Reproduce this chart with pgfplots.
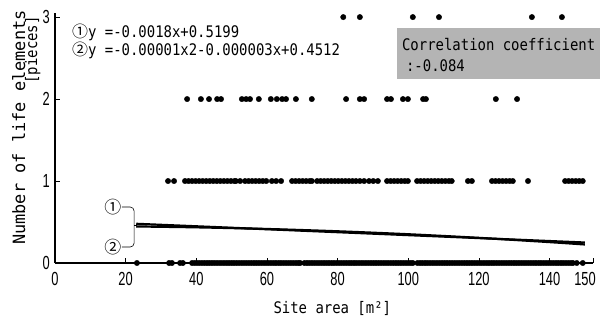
\documentclass[border=0pt]{standalone}
\usepackage{fontspec}
\setmainfont{Liberation Sans}
\newfontfamily\monof{DejaVu Sans Mono}[FakeStretch=0.875]
\newfontfamily\monoy{DejaVu Sans Mono}
\newfontfamily\tickf{Liberation Sans}[FakeStretch=0.68]
\newfontfamily\circf{Noto Sans CJK JP}
\usepackage{pgfplots}
\pgfplotsset{compat=1.18}
\definecolor{boxgray}{RGB}{180,180,180}
\begin{document}
\begin{tikzpicture}
\path[use as bounding box] (-55bp,-57bp) rectangle (547bp,263bp);
\begin{axis}[
  at={(0,0)}, anchor=south west,
  scale only axis, width=538bp, height=250bp,
  xmin=0, xmax=152.3, ymin=0, ymax=3.05,
  axis x line=bottom, axis y line=left,
  axis line style={-, line width=1.3bp},
  tick align=inside, major tick length=5bp,
  tick style={black, line width=0.8bp},
  xtick={0,20,40,60,80,100,120,140,152.3},
  xticklabels={0,20,40,60,80,100,120,140,\makebox[0pt]{\hspace{-16bp}150}},
  ytick={0,1,2,3},
  /pgf/number format/assume math mode=true,
  ticklabel style={font=\tickf\fontsize{19}{19}\selectfont},
  yticklabel style={inner xsep=0pt, xshift=-5bp},
  xticklabel style={inner ysep=0pt, yshift=-9bp},
  clip=false,
]
% y = 3
\addplot[only marks, mark=*, mark size=2.7bp, black] coordinates {
(81.6,3)(86.3,3)(101.3,3)(108.7,3)(135.0,3)(143.5,3)};
% y = 2
\addplot[only marks, mark=*, mark size=2.7bp, black] coordinates {
(37.4,2)(41.3,2)(43.6,2)(45.9,2)(47.0,2)(52.9,2)(54.1,2)(55.2,2)(57.7,2)(61.1,2)
(62.8,2)(64.3,2)(65.4,2)(68.2,2)(72.7,2)(82.4,2)(86.3,2)(87.5,2)(94.0,2)(95.1,2)
(98.5,2)(99.9,2)(104.2,2)(105.0,2)(124.8,2)(130.8,2)};
% y = 1
\addplot[only marks, mark=*, mark size=2.7bp, black] coordinates {
(32.0,1)(33.7,1)
(36.8,1)(37.8,1)(38.8,1)(39.8,1)(40.8,1)(41.8,1)(42.8,1)(43.8,1)(44.8,1)(45.8,1)(46.8,1)(47.8,1)(48.8,1)(49.8,1)(50.8,1)(51.2,1)
(52.4,1)
(53.8,1)(54.8,1)(55.8,1)(56.8,1)(57.8,1)(58.8,1)(59.8,1)
(61.4,1)(62.6,1)(64.0,1)
(67.1,1)(68.1,1)(69.1,1)(70.1,1)(71.1,1)(72.1,1)(72.7,1)
(74.2,1)(75.2,1)(76.2,1)(77.2,1)(78.2,1)(79.2,1)(80.2,1)(81.2,1)(82.2,1)(83.2,1)(84.2,1)(85.2,1)(86.3,1)
(87.5,1)(88.9,1)(90.1,1)(91.4,1)
(94.0,1)(95.0,1)(96.0,1)(97.0,1)(98.0,1)(99.0,1)(99.9,1)
(102.5,1)(103.5,1)(104.5,1)(105.5,1)(106.5,1)(107.5,1)(108.5,1)(109.5,1)(110.5,1)(111.5,1)(112.3,1)
(116.9,1)(118.0,1)
(123.7,1)(124.7,1)(125.7,1)(126.7,1)(127.7,1)(128.7,1)(129.6,1)
(133.9,1)
(144.4,1)(145.4,1)(146.4,1)(147.4,1)(148.4,1)(149.4,1)};
% y = 0
\addplot[only marks, mark=*, mark size=2.7bp, black] coordinates {
(23.2,0)(32.3,0)(33.1,0)(35.4,0)(36.2,0)
(38.8,0)(39.5,0)(40.2,0)(40.9,0)(41.6,0)(42.3,0)(43.0,0)(43.7,0)(44.4,0)(45.1,0)(45.8,0)(46.5,0)(47.2,0)(47.9,0)(48.6,0)(49.3,0)
(50.0,0)(50.7,0)(51.4,0)(52.1,0)(52.8,0)(53.5,0)(54.2,0)(54.9,0)(55.6,0)(56.3,0)(57.0,0)(57.7,0)(58.4,0)(59.1,0)(59.8,0)(60.5,0)
(61.2,0)(61.9,0)(62.6,0)(63.3,0)(64.0,0)(64.7,0)(65.4,0)(66.1,0)(66.8,0)(67.5,0)(68.2,0)(68.9,0)(69.4,0)
(70.6,0)(71.3,0)(72.0,0)(72.7,0)(73.4,0)(74.1,0)(74.8,0)(75.5,0)(76.2,0)(76.9,0)(77.6,0)(78.3,0)(79.0,0)(79.7,0)(80.4,0)
(81.1,0)(81.8,0)(82.5,0)(83.2,0)(83.9,0)(84.6,0)(85.3,0)(86.0,0)(86.7,0)(87.4,0)(88.1,0)(88.8,0)(89.5,0)(90.2,0)(90.9,0)
(91.6,0)(92.3,0)(93.0,0)(93.7,0)(94.4,0)(95.1,0)(95.8,0)(96.5,0)(97.2,0)(97.9,0)(98.6,0)(99.3,0)(100.0,0)(100.7,0)(101.3,0)
(102.6,0)(103.3,0)(104.0,0)(104.7,0)(105.4,0)(106.1,0)(106.8,0)(107.5,0)(108.2,0)(108.9,0)(109.6,0)(110.3,0)(111.0,0)
(111.7,0)(112.4,0)(113.1,0)(113.8,0)(114.5,0)(115.2,0)(115.9,0)(116.6,0)(117.3,0)(118.0,0)(118.7,0)(119.4,0)(120.1,0)
(120.8,0)(121.5,0)(122.2,0)(122.9,0)(123.6,0)(124.3,0)(125.0,0)(125.7,0)(126.4,0)(127.1,0)(127.8,0)(128.5,0)(129.2,0)
(129.9,0)(130.6,0)(131.3,0)(132.0,0)(132.7,0)(133.4,0)(134.1,0)(134.8,0)(135.5,0)(136.2,0)(136.9,0)(137.6,0)(138.3,0)
(139.0,0)(139.7,0)(140.4,0)(141.1,0)(141.8,0)(142.5,0)(143.2,0)(143.9,0)(144.6,0)(145.3,0)(146.0,0)(146.6,0)
(147.7,0)(149.4,0)};
% regression lines
\addplot[black, line width=2.2bp] coordinates {(23,0.4785) (150,0.2499)};
\addplot[black, line width=2.2bp, smooth] coordinates {(23,0.4458)(40,0.4351)(60,0.4150)(80,0.3870)(100,0.3509)(120,0.3068)(140,0.2548)(150,0.2258)};
% annotations
\node[font=\circf\fontsize{17}{17}\selectfont, inner sep=0] at (axis cs:16.4,0.683) {①};
\node[font=\circf\fontsize{17}{17}\selectfont, inner sep=0] at (axis cs:16.4,0.195) {②};
\draw[line width=0.6bp, rounded corners=4bp] (axis cs:18.9,0.683) -| (axis cs:22.4,0.195) -- (axis cs:18.9,0.195);
\draw[line width=0.6bp] (axis cs:22.4,0.46) -- (axis cs:23.2,0.46);
\node[anchor=base west, inner sep=0, font=\monof\fontsize{16}{16}\selectfont] at (axis cs:4.8,2.756) {{\circf①}y =-0.0018x+0.5199};
\node[anchor=base west, inner sep=0, font=\monof\fontsize{16}{16}\selectfont] at (axis cs:4.8,2.537) {{\circf②}y =-0.00001x2-0.000003x+0.4512};
\fill[boxgray] (axis cs:96.8,2.244) rectangle (axis cs:154.3,2.866);
\node[anchor=base west, inner sep=0, font=\monof\fontsize{16}{16}\selectfont] at (axis cs:98.2,2.598) {Correlation coefficient};
\node[anchor=base west, inner sep=0, font=\monof\fontsize{16}{16}\selectfont] at (axis cs:98.2,2.341) {\hspace{4bp}:-0.084};
% axis labels
\node[rotate=90, anchor=base, inner sep=0, font=\monoy\fontsize{17}{17}\selectfont] at ([xshift=-30bp]axis cs:0,1.652) {Number of life elements};
\node[rotate=90, anchor=base, inner sep=0, font=\monof\fontsize{16}{16}\selectfont] at ([xshift=-18bp]axis cs:0,2.6) {[pieces]};
\node[anchor=base, inner sep=0, font=\monof\fontsize{16}{16}\selectfont] at ([yshift=-50bp]axis cs:78.5,0) {Site area [m²]};
\end{axis}
\end{tikzpicture}
\end{document}
